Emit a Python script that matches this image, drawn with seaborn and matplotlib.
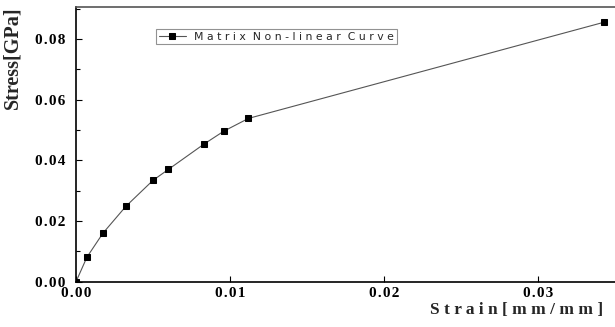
import numpy as np
import pandas as pd
import matplotlib
matplotlib.use("Agg")
import matplotlib.pyplot as plt
from matplotlib.ticker import MultipleLocator, FuncFormatter
import seaborn as sns

# Данные кривой
strain = [0.0, 0.00071, 0.00175, 0.00325, 0.0050, 0.0060, 0.0083, 0.0096, 0.0112, 0.0343]
stress = [0.0, 0.0081, 0.0160, 0.0249, 0.0334, 0.0370, 0.0453, 0.0496, 0.0538, 0.0855]
series_label = "M a t r i x  N o n - l i n e a r  C u r v e"

df = pd.DataFrame({"strain": strain, "stress": stress})

sns.set_style("ticks")
plt.rcParams["font.family"] = ["Liberation Serif", "DejaVu Serif"]


def spaced(v, pos):
    # разрядка цифр как в оригинале
    return "\u200a".join("%.2f" % v)


fig = plt.figure(figsize=(6.15, 3.27), dpi=100)
ax = fig.add_axes([0.1236, 0.1385, 0.8764, 0.8401])

sns.lineplot(data=df, x="strain", y="stress", ax=ax, color="#555555", linewidth=0.8,
             marker="s", markersize=4.5, markerfacecolor="black", markeredgecolor="black",
             label=series_label)

ax.set_xlim(0, 0.035)
ax.set_ylim(0, 0.0905)
ax.xaxis.set_major_locator(MultipleLocator(0.01))
ax.yaxis.set_major_locator(MultipleLocator(0.02))
ax.yaxis.set_minor_locator(MultipleLocator(0.01))
ax.xaxis.set_major_formatter(FuncFormatter(spaced))
ax.yaxis.set_major_formatter(FuncFormatter(spaced))
ax.tick_params(axis="both", which="both", direction="in", colors="black",
               labelsize=11)
ax.tick_params(which="major", length=4, width=0.8)
ax.tick_params(which="minor", length=3, width=0.8)
ax.tick_params(axis="y", which="major", pad=8)
for lab in ax.get_xticklabels() + ax.get_yticklabels():
    lab.set_fontweight("bold")

ax.spines["left"].set_linewidth(1.2)
ax.spines["bottom"].set_linewidth(1.2)
ax.spines["left"].set_color("black")
ax.spines["bottom"].set_color("black")
ax.spines["top"].set_visible(True)
ax.spines["top"].set_color("#555555")
ax.spines["top"].set_linewidth(1.2)
ax.spines["right"].set_visible(False)

ax.set_xlabel("S t r a i n [ m m / m m ]", fontsize=12.5, fontweight="bold")
ax.xaxis.set_label_coords(0.818, -0.075)
ax.set_ylabel("Stress[GPa]", fontsize=14.5, fontweight="bold")
ax.yaxis.set_label_coords(-0.1, 0.815)

leg = ax.legend(loc="upper left", bbox_to_anchor=(0.138, 0.94), frameon=True,
                fancybox=False, edgecolor="#777777", handlelength=2.5,
                borderpad=0.25, prop={"family": "DejaVu Sans", "size": 7.8})
leg.get_frame().set_linewidth(0.8)

fig.savefig("out.png", dpi=100)
